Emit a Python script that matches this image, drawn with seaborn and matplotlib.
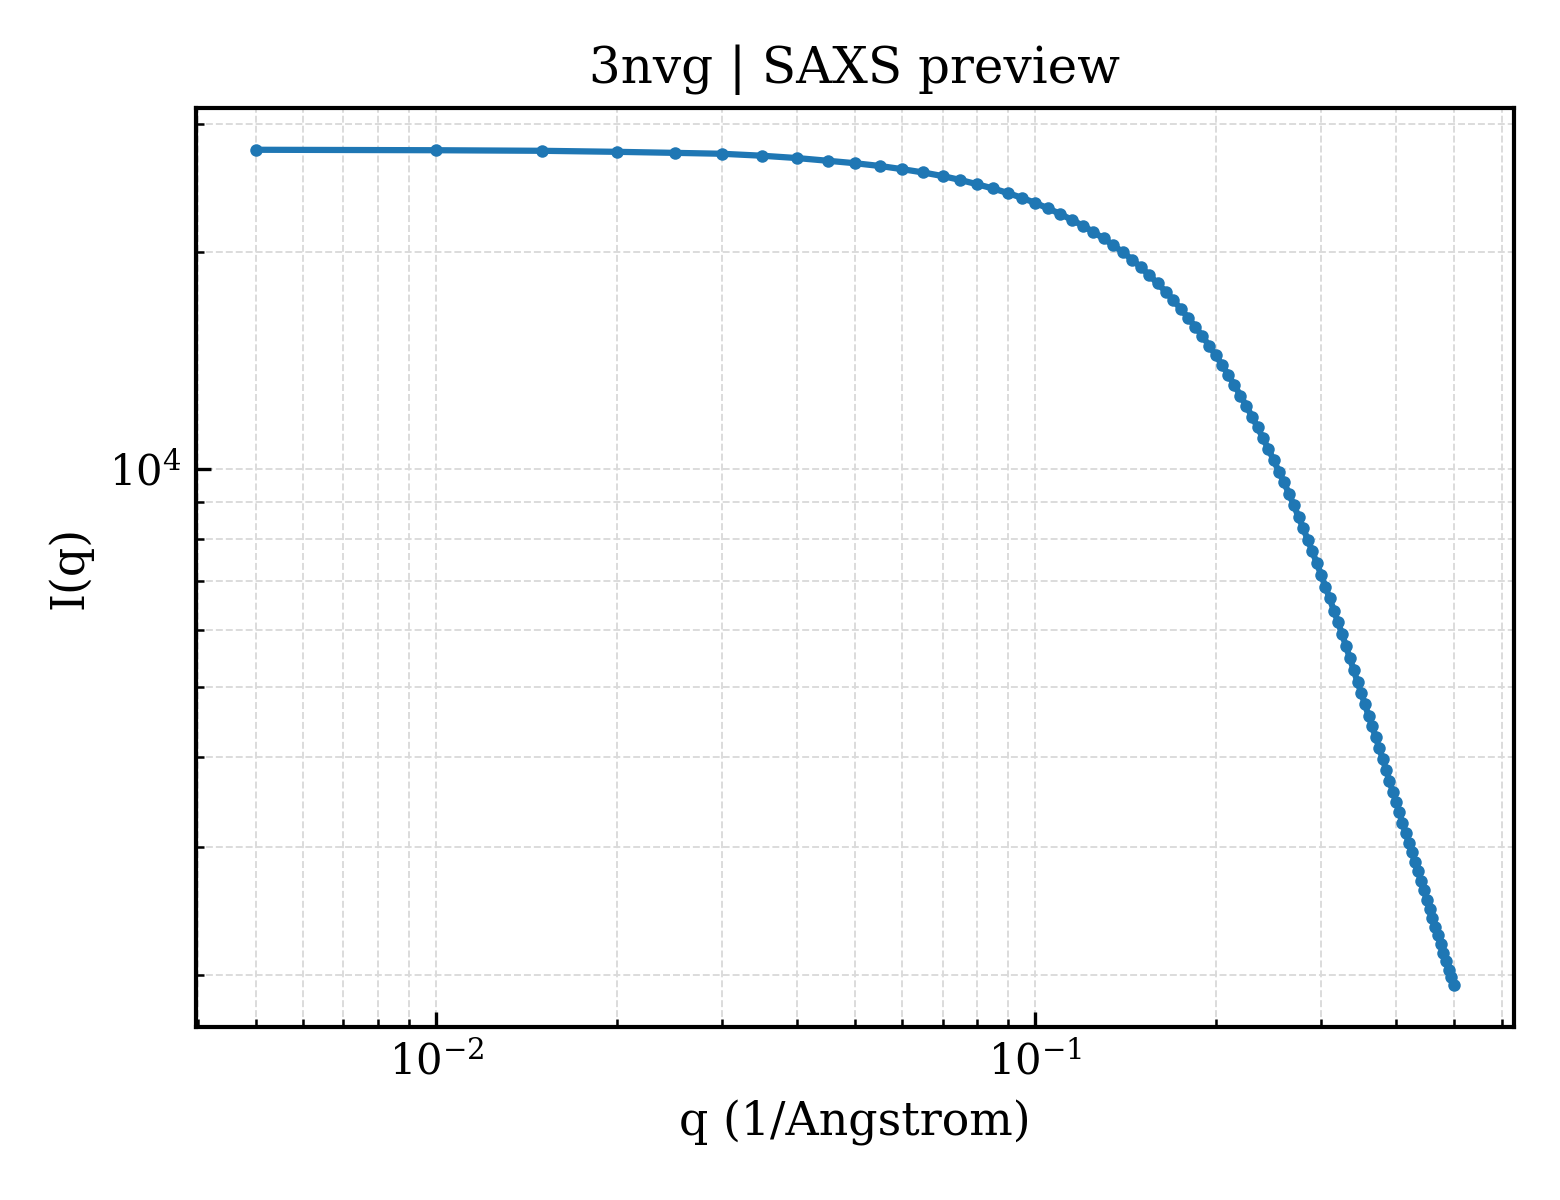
import numpy as np
import pandas as pd
import seaborn as sns
import matplotlib.pyplot as plt
from matplotlib.ticker import NullFormatter

# 数据（从图中读取的 SAXS 曲线）
q_values = [
    0.005, 0.010, 0.015, 0.020, 0.025, 0.030, 0.035, 0.040, 0.045, 0.050,
    0.055, 0.060, 0.065, 0.070, 0.075, 0.080, 0.085, 0.090, 0.095, 0.100,
    0.105, 0.110, 0.115, 0.120, 0.125, 0.130, 0.135, 0.140, 0.145, 0.150,
    0.155, 0.160, 0.165, 0.170, 0.175, 0.180, 0.185, 0.190, 0.195, 0.200,
    0.205, 0.210, 0.215, 0.220, 0.225, 0.230, 0.235, 0.240, 0.245, 0.250,
    0.255, 0.260, 0.265, 0.270, 0.275, 0.280, 0.285, 0.290, 0.295, 0.300,
    0.305, 0.310, 0.315, 0.320, 0.325, 0.330, 0.335, 0.340, 0.345, 0.350,
    0.355, 0.360, 0.365, 0.370, 0.375, 0.380, 0.385, 0.390, 0.395, 0.400,
    0.405, 0.410, 0.415, 0.420, 0.425, 0.430, 0.435, 0.440, 0.445, 0.450,
    0.455, 0.460, 0.465, 0.470, 0.475, 0.480, 0.485, 0.490, 0.495, 0.500,
]
intensity = [
    27670, 27630, 27580, 27490, 27400, 27320, 27150, 26950, 26720, 26510,
    26280, 26010, 25740, 25450, 25130, 24790, 24460, 24110, 23740, 23360,
    22960, 22560, 22140, 21730, 21300, 20860, 20410, 19970, 19510, 19040,
    18560, 18080, 17620, 17140, 16660, 16200, 15740, 15290, 14830, 14390,
    13940, 13510, 13070, 12650, 12240, 11830, 11430, 11040, 10660, 10300,
    9930, 9600, 9260, 8930, 8600, 8290, 7990, 7700, 7420, 7145,
    6880, 6630, 6380, 6150, 5920, 5700, 5480, 5280, 5080, 4905,
    4730, 4565, 4410, 4260, 4120, 3977, 3845, 3710, 3585, 3470,
    3355, 3245, 3140, 3045, 2955, 2865, 2780, 2700, 2617, 2541,
    2469, 2398, 2330, 2267, 2204, 2145, 2088, 2034, 1984, 1935,
]
title = "3nvg | SAXS preview"

df = pd.DataFrame({"q": q_values, "I": intensity})

plt.rcParams['font.family'] = ['DejaVu Serif']
plt.rcParams['mathtext.fontset'] = 'dejavuserif'

fig, ax = plt.subplots(figsize=(5.2, 4.0), dpi=300)
fig.subplots_adjust(left=0.1256, right=0.9705, top=0.91, bottom=0.1442)

sns.lineplot(data=df, x="q", y="I", ax=ax, color="#1f77b4", linewidth=1.5,
             marker="o", markersize=3.0, markeredgewidth=0)

ax.set_xscale("log")
ax.set_yscale("log")
ax.yaxis.set_minor_formatter(NullFormatter())

ax.grid(True, which="both", linestyle="--", linewidth=0.45, color="#dadada")
ax.set_axisbelow(True)
ax.tick_params(which="both", direction="in", top=False, right=False)
for s in ax.spines.values():
    s.set_linewidth(1.0)

ax.set_xlabel("q (1/Angstrom)", fontsize=11)
ax.set_ylabel("I(q)", fontsize=11)
ax.set_title(title, fontsize=12)

plt.savefig("out.png", dpi=300)
